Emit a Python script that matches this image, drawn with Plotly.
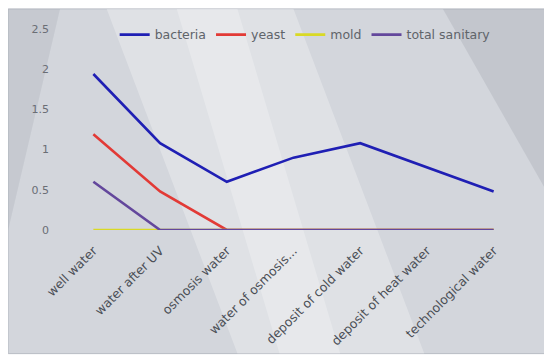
import plotly.graph_objects as go

categories = ["well water", "water after UV", "osmosis water", "water of osmosis...",
              "deposit of cold water", "deposit of heat water", "technological water"]
bacteria = [1.94, 1.08, 0.6, 0.9, 1.08, 0.78, 0.48]
yeast = [1.19, 0.48, 0, 0, 0, 0, 0]
mold = [0, 0, 0, 0, 0, 0, 0]
total_sanitary = [0.6, 0, 0, 0, 0, 0, 0]
y_ticks = [0, 0.5, 1, 1.5, 2, 2.5]
y_tick_labels = ["0", "0.5", "1", "1.5", "2", "2.5"]

series = [("bacteria", bacteria, "#1f1fb4"),
          ("yeast", yeast, "#e23a36"),
          ("mold", mold, "#d9d925"),
          ("total sanitary", total_sanitary, "#63479c")]

fig = go.Figure()
for name, vals, col in series:
    fig.add_trace(go.Scatter(x=categories, y=vals, name=name, mode="lines",
                             line=dict(color=col, width=2.6)))

X0, X1, Y0, Y1 = -0.111, 1.04, -0.615, 1.1
shapes = [
    dict(type="rect", xref="paper", yref="paper", layer="below",
         x0=X0, x1=X1, y0=Y0, y1=Y1,
         fillcolor="#d3d6dc", line=dict(color="#b8bcc4", width=1)),
    dict(type="path", xref="paper", yref="paper", layer="below",
         path=f"M 0.1 {Y1} L 0.5 {Y1} L 0.78 {Y0} L 0.38 {Y0} Z",
         fillcolor="rgba(255,255,255,0.28)", line=dict(width=0)),
    dict(type="path", xref="paper", yref="paper", layer="below",
         path=f"M 0.25 {Y1} L 0.38 {Y1} L 0.6 {Y0} L 0.47 {Y0} Z",
         fillcolor="rgba(255,255,255,0.25)", line=dict(width=0)),
    dict(type="path", xref="paper", yref="paper", layer="below",
         path=f"M 0.82 {Y1} L {X1} {Y1} L {X1} 0.2 Z",
         fillcolor="rgba(120,125,140,0.18)", line=dict(width=0)),
    dict(type="path", xref="paper", yref="paper", layer="below",
         path=f"M {X0} {Y1} L 0.0 {Y1} L {X0} 0.0 Z",
         fillcolor="rgba(140,145,155,0.18)", line=dict(width=0)),
]

fig.update_layout(
    width=544, height=353,
    margin=dict(l=52, r=25, t=14, b=131),
    paper_bgcolor="white", plot_bgcolor="rgba(0,0,0,0)",
    font=dict(family="DejaVu Sans", color="#555a60", size=10),
    shapes=shapes,
    showlegend=True,
    legend=dict(orientation="h", x=0.525, xanchor="center", y=1.045, yanchor="top",
                bgcolor="rgba(0,0,0,0)", font=dict(size=12.5, color="#60646a"),
                itemwidth=30),
    xaxis=dict(tickangle=-45, showgrid=False, zeroline=False, showline=False,
               ticks="", range=[-0.5, 6.5], ticklabelstandoff=10,
               tickfont=dict(size=12.5, color="#4a4e55")),
    yaxis=dict(range=[0, 2.5], tickvals=y_ticks, ticktext=y_tick_labels,
               showgrid=False, zeroline=False, showline=False, ticks="",
               ticklabelstandoff=10,
               tickfont=dict(size=11, color="#6a6e75")),
)

fig.write_html("out.html")
